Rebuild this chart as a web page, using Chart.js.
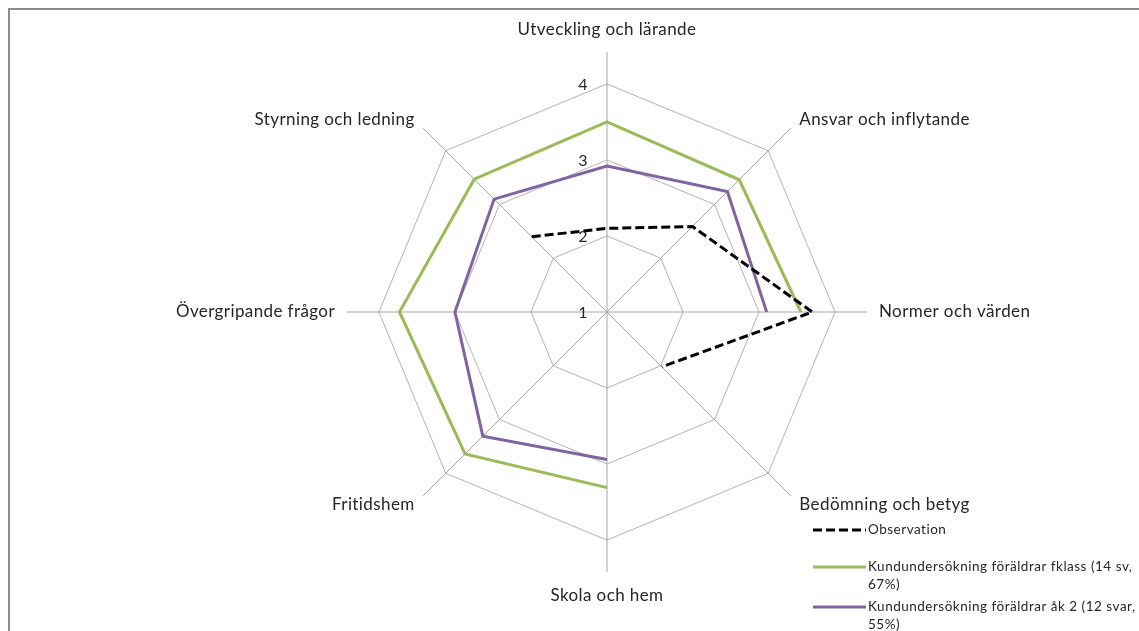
<!DOCTYPE html>
<html>
<head>
<meta charset="utf-8">
<script src="https://cdn.jsdelivr.net/npm/chart.js@4"></script>
<style>
 html,body{margin:0;padding:0;background:#fff;}
 #wrap{width:1139px;height:631px;}
</style>
</head>
<body>
<div id="wrap"><canvas id="radar"></canvas></div>
<script>
/* DATA */
const areas=["Utveckling och lärande","Ansvar och inflytande","Normer och värden","Bedömning och betyg","Skola och hem","Fritidshem","Övergripande frågor","Styrning och ledning"];
const observation=[2.1,2.59,3.7,2.02,null,null,null,2.4];
const fklass=[3.5,3.46,3.55,null,3.31,3.64,3.73,3.47];
const ak2=[2.92,3.24,3.1,null,2.94,3.31,3.0,3.1];
const tickValues=[1,2,3,4];
const seriesNames=["Observation","Kundundersökning föräldrar fklass (14 sv, 67%)","Kundundersökning föräldrar åk 2 (12 svar, 55%)"];

const FONT="Lato, 'DejaVu Sans', sans-serif";

/* LABELS, TICKS, LEGEND, FRAME */
const extras={
 id:"extras",
 afterDraw(chart){
  const ctx=chart.ctx, s=chart.scales.r;
  ctx.save();
  // frame
  ctx.strokeStyle="#8c8c8c"; ctx.lineWidth=2;
  ctx.strokeRect(9,9,1300,800);
  // point labels
  ctx.fillStyle="#262626";
  ctx.font="17px "+FONT;
  ctx.letterSpacing="0.4px";
  areas.forEach((t,i)=>{
   const p=s.getPointPosition(i,s.drawingArea+12);
   const dx=p.x-s.xCenter;
   let y=p.y;
   if(Math.abs(dx)<1){ctx.textAlign="center"; y+=(p.y<s.yCenter?-10:12);}
   else ctx.textAlign=dx>0?"left":"right";
   ctx.textBaseline="middle";
   ctx.fillText(t,p.x,y);
  });
  // tick labels
  ctx.font="16px "+FONT;
  ctx.textAlign="right";
  tickValues.forEach(v=>{
   const p=s.getPointPositionForValue(0,v);
   ctx.fillText(String(v),p.x-19,p.y+1);
  });
  // legend
  ctx.font="13.5px "+FONT;
  ctx.letterSpacing="0.5px";
  ctx.textAlign="left";
  const rows=[530,567,607];
  chart.data.datasets.forEach((d,i)=>{
   const y=rows[i];
   ctx.strokeStyle=d.borderColor; ctx.lineWidth=3;
   ctx.setLineDash(d.borderDash||[]);
   ctx.beginPath(); ctx.moveTo(813,y); ctx.lineTo(866,y); ctx.stroke();
   ctx.setLineDash([]);
   const cut=d.label.lastIndexOf(" ");
   const lines=i===0?[d.label]:[d.label.slice(0,cut),d.label.slice(cut+1)];
   ctx.fillStyle="#262626";
   lines.forEach((l,k)=>ctx.fillText(l,868,y+k*18));
  });
  ctx.restore();
 }
};

new Chart(document.getElementById("radar"),{
 type:"radar",
 data:{
  labels:areas,
  datasets:[
   {label:seriesNames[0],data:observation,borderColor:"#000000",borderDash:[9,4],borderWidth:3},
   {label:seriesNames[1],data:fklass,borderColor:"#9BBB59",borderWidth:3},
   {label:seriesNames[2],data:ak2,borderColor:"#8064A2",borderWidth:3}
  ]
 },
 options:{
  responsive:true,maintainAspectRatio:false,animation:false,
  layout:{padding:{left:150,right:75,top:52,bottom:59}},
  elements:{
   point:{radius:0,hoverRadius:0},
   line:{tension:0,fill:false,borderJoinStyle:"miter",borderCapStyle:"butt"}
  },
  spanGaps:false,
  plugins:{legend:{display:false},tooltip:{enabled:false}},
  scales:{
   r:{
    min:1,max:4.42,
    afterBuildTicks:a=>{a.ticks=tickValues.map(v=>({value:v}));},
    ticks:{display:false},
    pointLabels:{display:false},
    grid:{color:"#b4b4b4",lineWidth:1},
    angleLines:{color:"#a6a6a6",lineWidth:1}
   }
  }
 },
 plugins:[extras]
});
</script>
</body>
</html>
